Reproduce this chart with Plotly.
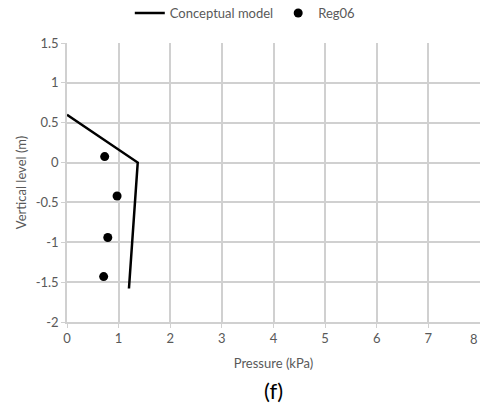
import plotly.graph_objects as go

# Conceptual model pressure profile
model_pressure = [0.0, 1.37, 1.2]
model_level = [0.6, 0.0, -1.58]

# Measured pressures, Reg06
reg_pressure = [0.73, 0.97, 0.79, 0.71]
reg_level = [0.075, -0.42, -0.94, -1.43]

x_ticks = [0, 1, 2, 3, 4, 5, 6, 7, 8]
y_ticks = [-2, -1.5, -1, -0.5, 0, 0.5, 1, 1.5]

grid = "#d0d0d0"
txt = "#595959"
font = "Lato"
fs = 13

fig = go.Figure()
fig.add_trace(go.Scatter(
    x=model_pressure, y=model_level, mode="lines", name="Conceptual model",
    line=dict(color="black", width=2.5),
))
fig.add_trace(go.Scatter(
    x=reg_pressure, y=reg_level, mode="markers", name="Reg06",
    marker=dict(color="black", size=9),
))

fig.update_layout(
    width=480, height=409,
    margin=dict(l=67, r=0, t=43, b=87, autoexpand=False),
    paper_bgcolor="white", plot_bgcolor="white",
    font=dict(family=font, size=fs, color=txt),
    showlegend=True,
    legend=dict(
        orientation="h", xref="container", yref="container",
        x=0.51, xanchor="center", y=1 - 13 / 409, yanchor="middle",
        font=dict(family=font, size=fs, color=txt),
        itemwidth=30, tracegroupgap=0,
    ),
    xaxis=dict(
        range=[0, 8], tickvals=x_ticks, ticktext=[str(v) for v in x_ticks],
        showgrid=True, gridcolor=grid, gridwidth=1.5,
        showline=True, linecolor=grid, linewidth=1.5,
        ticks="outside", ticklen=4, tickcolor=grid,
        zeroline=False, automargin=False,
        title=dict(text="Pressure (kPa)", font=dict(family=font, size=fs, color=txt), standoff=14),
        tickfont=dict(family=font, size=fs, color=txt),
    ),
    yaxis=dict(
        range=[-2, 1.5], tickvals=y_ticks,
        ticktext=["-2", "-1.5", "-1", "-0.5", "0", "0.5", "1", "1.5"],
        showgrid=True, gridcolor=grid, gridwidth=1.5,
        showline=True, linecolor=grid, linewidth=1.5,
        ticks="outside", ticklen=4, tickcolor=grid,
        zeroline=False, automargin=False,
        title=dict(text="Vertical level (m)", font=dict(family=font, size=fs, color=txt), standoff=6),
        tickfont=dict(family=font, size=fs, color=txt),
    ),
    annotations=[
        dict(
            text="(f)", xref="paper", yref="paper", x=0.5, y=-0.246,
            xanchor="center", yanchor="middle", showarrow=False,
            font=dict(family=font, size=22, color="black"),
        ),
        # last x tick label sits on the page edge
        dict(
            text=str(x_ticks[-1]), xref="x", yref="paper", x=x_ticks[-1], y=-0.06,
            xanchor="right", yanchor="middle", showarrow=False,
            font=dict(family=font, size=fs, color=txt),
        ),
    ],
)

fig.write_html("out.html")
